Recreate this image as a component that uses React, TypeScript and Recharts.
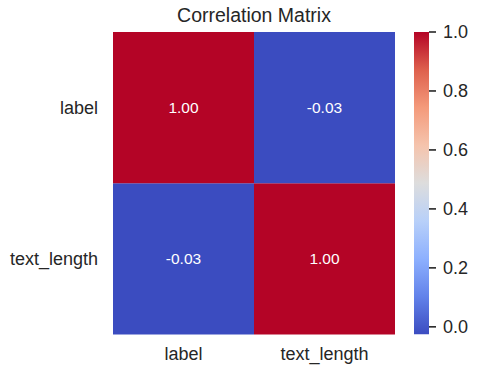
import { BarChart, Bar, XAxis, YAxis, Cell, LabelList } from 'recharts';

// correlation matrix, rows and columns share these names
const names = ['label', 'text_length'];
const corrLabel = [1.0, -0.026];
const corrTextLength = [-0.026, 1.0];
const cbTicks = [0, 0.2, 0.4, 0.6, 0.8, 1.0];

const vmin = -0.026;
const vmax = 1.0;

const FONT = '"Liberation Sans", Arial, sans-serif';
const INK = '#262626';

// coolwarm colormap stops
const coolwarm: [number, number, number][] = [
  [59, 76, 192],
  [98, 130, 234],
  [141, 176, 254],
  [184, 208, 249],
  [221, 221, 221],
  [245, 196, 173],
  [244, 154, 123],
  [222, 96, 77],
  [180, 4, 38],
];

const colorFor = (v: number) => {
  const t = Math.min(1, Math.max(0, (v - vmin) / (vmax - vmin))) * (coolwarm.length - 1);
  const i = Math.min(coolwarm.length - 2, Math.floor(t));
  const f = t - i;
  const c = coolwarm[i].map((a, k) => Math.round(a + (coolwarm[i + 1][k] - a) * f));
  return `rgb(${c[0]},${c[1]},${c[2]})`;
};

// one entry per column; each row is a unit-height stacked segment
const heatData = names.map((name, j) => ({
  name,
  top: 1,
  bottom: 1,
  vTop: corrLabel[j],
  vBottom: corrTextLength[j],
}));

const cbData = [{ name: 'cb', range: [vmin, vmax] }];

const rowName = (v: number) => (v > 1 ? names[0] : names[1]);

const App = () => (
  <div style={{ position: 'absolute', left: 0, top: 0, width: 477, height: 376, background: '#fff', fontFamily: FONT }}>
    <div
      style={{
        position: 'absolute',
        left: 113,
        width: 282,
        top: 6,
        textAlign: 'center',
        fontSize: 19.5,
        lineHeight: '19.5px',
        color: INK,
        whiteSpace: 'nowrap',
      }}
    >
      Correlation Matrix
    </div>

    <div style={{ position: 'absolute', left: 0, top: 0 }}>
      <BarChart
        width={477}
        height={376}
        data={heatData}
        margin={{ top: 32, right: 82, left: 0, bottom: 12 }}
        barCategoryGap={0}
        barGap={0}
      >
        <XAxis
          dataKey="name"
          type="category"
          height={29.5}
          tickLine={false}
          axisLine={false}
          tickSize={0}
          tickMargin={13}
          tick={{ fill: INK, fontSize: 18, fontFamily: FONT }}
        />
        <YAxis
          type="number"
          domain={[0, 2]}
          ticks={[0.5, 1.5]}
          tickFormatter={rowName}
          width={113}
          tickLine={false}
          axisLine={false}
          tickSize={0}
          tickMargin={15}
          tick={{ fill: INK, fontSize: 18, fontFamily: FONT }}
        />
        <Bar dataKey="bottom" stackId="h" isAnimationActive={false}>
          {heatData.map((d, i) => (
            <Cell key={i} fill={colorFor(d.vBottom)} />
          ))}
          <LabelList
            dataKey="vBottom"
            position="center"
            formatter={(v: number) => v.toFixed(2)}
            fill="#fff"
            fontSize={15.5}
            fontFamily={FONT}
          />
        </Bar>
        <Bar dataKey="top" stackId="h" isAnimationActive={false}>
          {heatData.map((d, i) => (
            <Cell key={i} fill={colorFor(d.vTop)} />
          ))}
          <LabelList
            dataKey="vTop"
            position="center"
            formatter={(v: number) => v.toFixed(2)}
            fill="#fff"
            fontSize={15.5}
            fontFamily={FONT}
          />
        </Bar>
      </BarChart>
    </div>

    {/* colorbar */}
    <div style={{ position: 'absolute', left: 0, top: 0 }}>
      <BarChart
        width={477}
        height={376}
        data={cbData}
        margin={{ top: 32, right: 0, left: 414, bottom: 41.5 }}
        barCategoryGap={0}
      >
        <defs>
          <linearGradient id="cwGrad" x1="0" y1="1" x2="0" y2="0">
            {coolwarm.map((c, i) => (
              <stop key={i} offset={i / (coolwarm.length - 1)} stopColor={`rgb(${c[0]},${c[1]},${c[2]})`} />
            ))}
          </linearGradient>
        </defs>
        <XAxis dataKey="name" hide />
        <YAxis
          orientation="right"
          type="number"
          domain={[vmin, vmax]}
          allowDataOverflow
          ticks={cbTicks}
          tickFormatter={(v: number) => v.toFixed(1)}
          width={48}
          axisLine={false}
          tickLine={{ stroke: INK, strokeWidth: 1.6 }}
          tickSize={7}
          tickMargin={7}
          tick={{ fill: INK, fontSize: 18, fontFamily: FONT }}
        />
        <Bar dataKey="range" fill="url(#cwGrad)" isAnimationActive={false} />
      </BarChart>
    </div>
  </div>
);

export default App;
